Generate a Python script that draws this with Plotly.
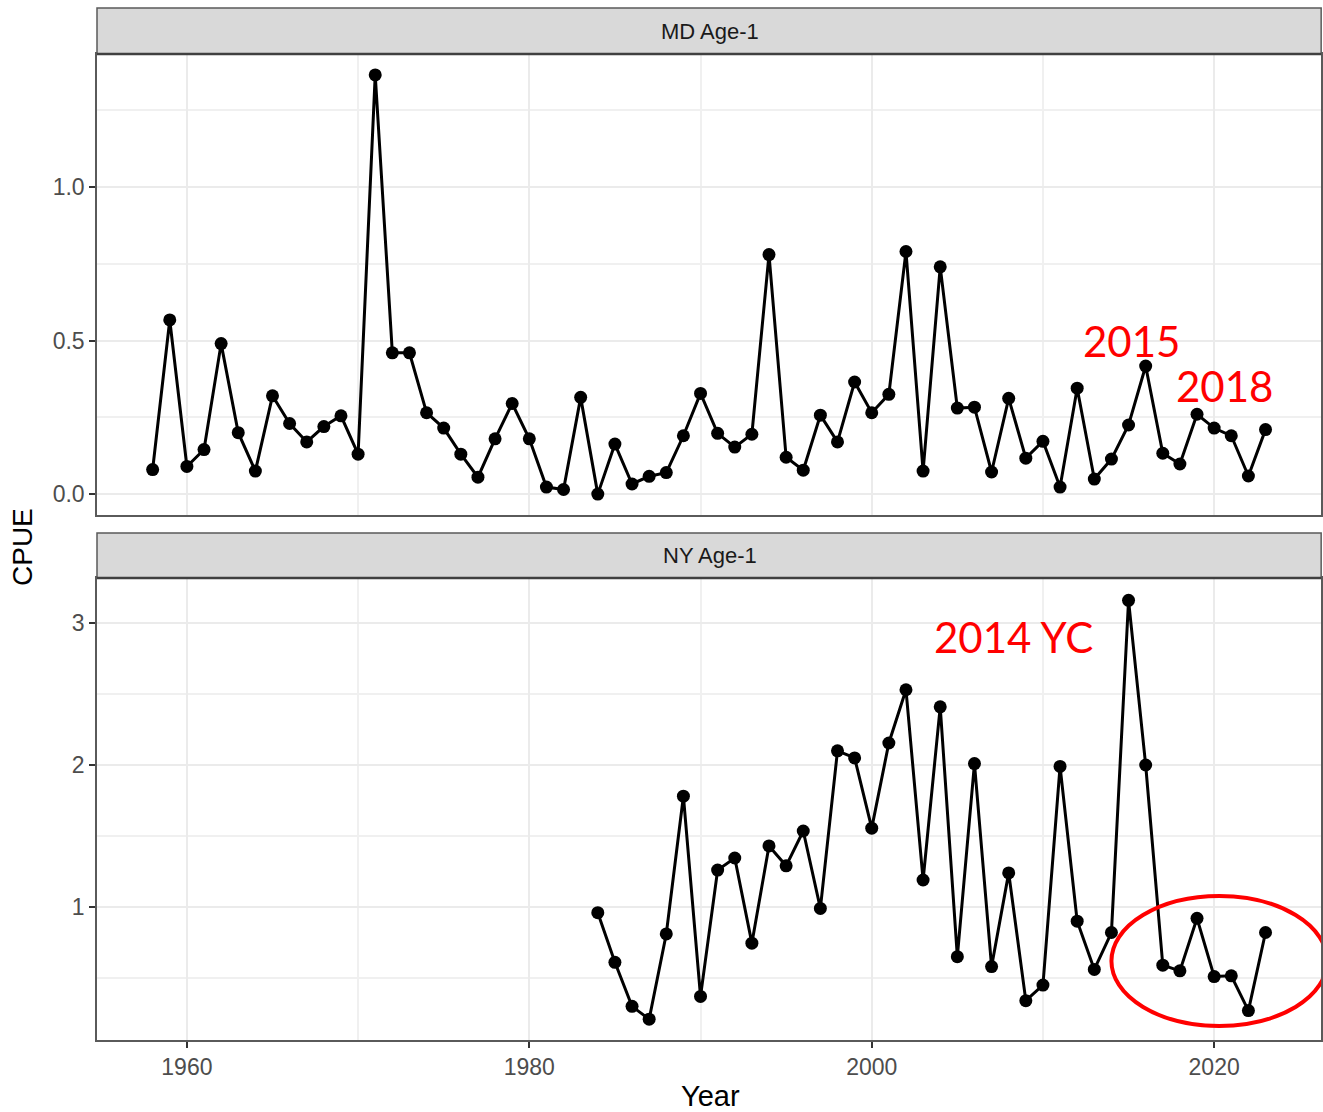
import plotly.graph_objects as go

md_years = list(range(1958, 2024))
md_cpue = [0.08, 0.567, 0.09, 0.145, 0.49, 0.20, 0.075, 0.32, 0.23, 0.17,
           0.22, 0.255, 0.13, 1.365, 0.46, 0.46, 0.265, 0.215, 0.13, 0.055,
           0.18, 0.295, 0.18, 0.023, 0.015, 0.315, 0.0, 0.163, 0.033, 0.058,
           0.07, 0.19, 0.328, 0.198, 0.153, 0.195, 0.78, 0.12, 0.078, 0.257,
           0.17, 0.365, 0.265, 0.325, 0.79, 0.075, 0.74, 0.28, 0.283, 0.072,
           0.312, 0.117, 0.172, 0.023, 0.345, 0.049, 0.114, 0.225, 0.417, 0.133,
           0.098, 0.26, 0.215, 0.19, 0.059, 0.21]

ny_years = list(range(1984, 2024))
ny_cpue = [0.96, 0.61, 0.30, 0.21, 0.81, 1.78, 0.37, 1.26, 1.345, 0.745,
           1.43, 1.29, 1.535, 0.99, 2.10, 2.05, 1.555, 2.155, 2.53, 1.19,
           2.41, 0.65, 2.01, 0.58, 1.24, 0.34, 0.45, 1.99, 0.90, 0.56,
           0.82, 3.16, 2.00, 0.59, 0.55, 0.92, 0.51, 0.515, 0.27, 0.82]

panel_titles = ["MD Age-1", "NY Age-1"]
x_ticks = [1960, 1980, 2000, 2020]

W, H = 1323, 1112
ML, MR, MT, MB = 97, 0, 8, 72
ph = H - MT - MB


def py(pix):
    return (H - MB - pix) / ph


fig = go.Figure()
fig.add_trace(go.Scatter(x=md_years, y=md_cpue, mode="lines+markers",
                         line=dict(color="black", width=3),
                         marker=dict(color="black", size=13),
                         xaxis="x", yaxis="y", showlegend=False))
fig.add_trace(go.Scatter(x=ny_years, y=ny_cpue, mode="lines+markers",
                         line=dict(color="black", width=3),
                         marker=dict(color="black", size=13),
                         xaxis="x2", yaxis="y2", showlegend=False))

xrange = [1954.75, 2026.25]
grid_major = "#EBEBEB"
grid_minor = "#F0F0F0"
border = "#5A5A5A"
tickfont = dict(family="Liberation Sans, Arial", size=23, color="#4D4D4D")

common_x = dict(range=xrange, tickmode="array", tickvals=x_ticks,
                showgrid=True, gridcolor=grid_major, gridwidth=2,
                minor=dict(tickvals=[1970, 1990, 2010], showgrid=True,
                           gridcolor=grid_minor, gridwidth=1.5, ticks=""),
                showline=True, mirror=True, linecolor=border, linewidth=1.5,
                zeroline=False, tickfont=tickfont)

fig.update_layout(
    width=W, height=H,
    margin=dict(l=ML, r=MR, t=MT, b=MB),
    plot_bgcolor="white", paper_bgcolor="white",
    xaxis=dict(**common_x, domain=[0, 0.9985], anchor="y",
               showticklabels=False, ticks=""),
    yaxis=dict(domain=[py(515), py(54)], anchor="x", range=[-0.068, 1.433],
               tickmode="array", tickvals=[0.0, 0.5, 1.0],
               ticktext=["0.0", "0.5", "1.0"],
               showgrid=True, gridcolor=grid_major, gridwidth=2,
               minor=dict(tickvals=[0.25, 0.75, 1.25], showgrid=True,
                          gridcolor=grid_minor, gridwidth=1.5, ticks=""),
               showline=True, mirror=True, linecolor=border, linewidth=1.5,
               zeroline=False, ticks="outside", ticklen=6, tickwidth=2,
               tickcolor="#333333", tickfont=tickfont),
    xaxis2=dict(**common_x, domain=[0, 0.9985], anchor="y2", ticks="outside",
                ticklen=6, tickwidth=2, tickcolor="#333333"),
    yaxis2=dict(domain=[0, py(578)], anchor="x2", range=[0.063, 3.317],
                tickmode="array", tickvals=[1, 2, 3],
                showgrid=True, gridcolor=grid_major, gridwidth=2,
                minor=dict(tickvals=[0.5, 1.5, 2.5], showgrid=True,
                           gridcolor=grid_minor, gridwidth=1.5, ticks=""),
                showline=True, mirror=True, linecolor=border, linewidth=1.5,
                zeroline=False, ticks="outside", ticklen=6, tickwidth=2,
                tickcolor="#333333", tickfont=tickfont),
)

# strips
for (top, bot), title in zip([(8, 54), (533, 578)], panel_titles):
    fig.add_shape(type="rect", xref="paper", yref="paper", x0=0, x1=0.9985,
                  y0=py(bot), y1=py(top), fillcolor="#D9D9D9",
                  line=dict(color=border, width=1.5), layer="above")
    fig.add_shape(type="line", xref="paper", yref="paper", x0=0, x1=0.9985,
                  y0=py(bot), y1=py(bot),
                  line=dict(color="#404040", width=2.5), layer="above")
    fig.add_annotation(xref="paper", yref="paper", x=0.5, y=py((top + bot) / 2),
                       text=title, showarrow=False, yanchor="middle",
                       xanchor="center",
                       font=dict(family="Liberation Sans, Arial", size=22,
                                 color="#1A1A1A"))

# axis titles
fig.add_annotation(xref="paper", yref="paper", x=0.5, y=py(1096), text="Year",
                   showarrow=False, yanchor="middle", xanchor="center",
                   font=dict(family="Liberation Sans, Arial", size=29,
                             color="black"))
fig.add_annotation(xref="paper", yref="paper", x=-(ML - 22) / (W - ML - MR),
                   y=py(547), text="CPUE", textangle=-90, showarrow=False,
                   xanchor="center", yanchor="middle",
                   font=dict(family="Liberation Sans, Arial", size=28,
                             color="black"))

# red annotations
red_font = dict(family="Lato, Open Sans", size=42, color="red")
fig.add_annotation(xref="x", yref="y", x=2015.2, y=0.50, text="2015",
                   showarrow=False, xanchor="center", yanchor="middle",
                   font=red_font)
fig.add_annotation(xref="x", yref="y", x=2020.6, y=0.352, text="2018",
                   showarrow=False, xanchor="center", yanchor="middle",
                   font=red_font)
fig.add_annotation(xref="x2", yref="y2", x=2008.3, y=2.9, text="2014 YC",
                   showarrow=False, xanchor="center", yanchor="middle",
                   font=red_font)

fig.add_shape(type="circle", xref="x2", yref="y2", x0=2014.0, x1=2026.6,
              y0=0.162, y1=1.077, line=dict(color="red", width=4),
              fillcolor="rgba(0,0,0,0)", layer="above")

fig.write_html("out.html")
